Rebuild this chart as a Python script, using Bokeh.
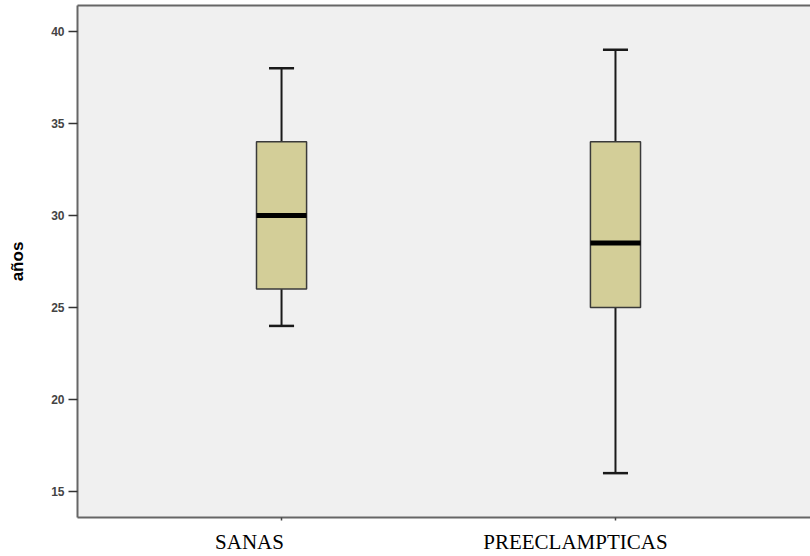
from bokeh.plotting import figure
from bokeh.models import ColumnDataSource, Range1d, FixedTicker, LinearAxis
from bokeh.embed import file_html
from bokeh.resources import INLINE

# Age distribution (años) per group: five-number summary of each box plot
groups = ["SANAS", "PREECLAMPTICAS"]
whisker_low = [24, 16]
q1 = [26, 25]
median = [30, 28.5]
q3 = [34, 34]
whisker_high = [38, 39]
y_ticks = [15, 20, 25, 30, 35, 40]

# group positions on the x axis, and horizontal nudges of the group names
pos = [1, 2]
name_shift = [-0.096, -0.12]

BOX_W = 0.15
CAP_W = 0.075

src = ColumnDataSource(dict(
    x=pos,
    lo=whisker_low, q1=q1, med=median, q3=q3, hi=whisker_high,
    x0=[x - BOX_W / 2 for x in pos], x1=[x + BOX_W / 2 for x in pos],
    c0=[x - CAP_W / 2 for x in pos], c1=[x + CAP_W / 2 for x in pos],
))

p = figure(width=810, height=556, output_backend="svg", toolbar_location=None,
           x_range=Range1d(0.389, 2.584), y_range=Range1d(13.59, 41.41),
           x_axis_type=None, min_border_left=77, min_border_right=0,
           min_border_top=5, min_border_bottom=39)
p.background_fill_color = "#f0f0f0"
p.border_fill_color = "white"
p.outline_line_color = None
p.grid.visible = False

# whiskers and caps
p.segment(x0="x", y0="q3", x1="x", y1="hi", source=src, line_color="#1a1a1a", line_width=2)
p.segment(x0="x", y0="q1", x1="x", y1="lo", source=src, line_color="#1a1a1a", line_width=2)
p.segment(x0="c0", y0="hi", x1="c1", y1="hi", source=src, line_color="#1a1a1a", line_width=2.5)
p.segment(x0="c0", y0="lo", x1="c1", y1="lo", source=src, line_color="#1a1a1a", line_width=2.5)

# boxes
p.vbar(x="x", width=BOX_W, bottom="q1", top="q3", source=src,
       fill_color="#d3ce98", line_color="#3a3a3a", line_width=1.5)
# medians
p.segment(x0="x0", y0="med", x1="x1", y1="med", source=src, line_color="black", line_width=5)

# y axis
ya = p.yaxis[0]
ya.ticker = FixedTicker(ticks=y_ticks)
ya.minor_tick_line_color = None
ya.major_tick_out = 9
ya.major_tick_in = 0
ya.major_tick_line_width = 1.5
ya.major_tick_line_color = "#333333"
ya.axis_line_color = "#666666"
ya.axis_line_width = 2
ya.major_label_text_font = "Liberation Sans"
ya.major_label_text_font_style = "bold"
ya.major_label_text_font_size = "12px"
ya.major_label_text_color = "#444444"
ya.major_label_standoff = 4
ya.axis_label = "años"
ya.axis_label_text_font = "Liberation Sans"
ya.axis_label_text_font_style = "bold"
ya.axis_label_text_font_size = "17px"
ya.axis_label_text_color = "black"
ya.axis_label_standoff = 21

# top border line
top = LinearAxis(ticker=FixedTicker(ticks=[]), major_tick_out=0, major_tick_in=0,
                 minor_tick_out=0, minor_tick_in=0, major_label_standoff=0,
                 axis_line_color="#666666", axis_line_width=2)
p.add_layout(top, "above")

# bottom border: group names as labels, small marks at the groups as minor ticks
name_pos = [x + s for x, s in zip(pos, name_shift)]
bottom = LinearAxis(ticker=FixedTicker(ticks=name_pos, minor_ticks=pos),
                    major_label_overrides={v: g for v, g in zip(name_pos, groups)},
                    axis_line_color="#666666", axis_line_width=2,
                    major_tick_line_color=None, major_tick_out=0, major_tick_in=0,
                    minor_tick_out=3, minor_tick_in=0,
                    minor_tick_line_color="#444444", minor_tick_line_width=1.5,
                    major_label_standoff=9,
                    major_label_text_font="Liberation Serif",
                    major_label_text_font_size="21px",
                    major_label_text_color="black")
p.add_layout(bottom, "below")

open("out.html", "w").write(file_html(p, INLINE))
